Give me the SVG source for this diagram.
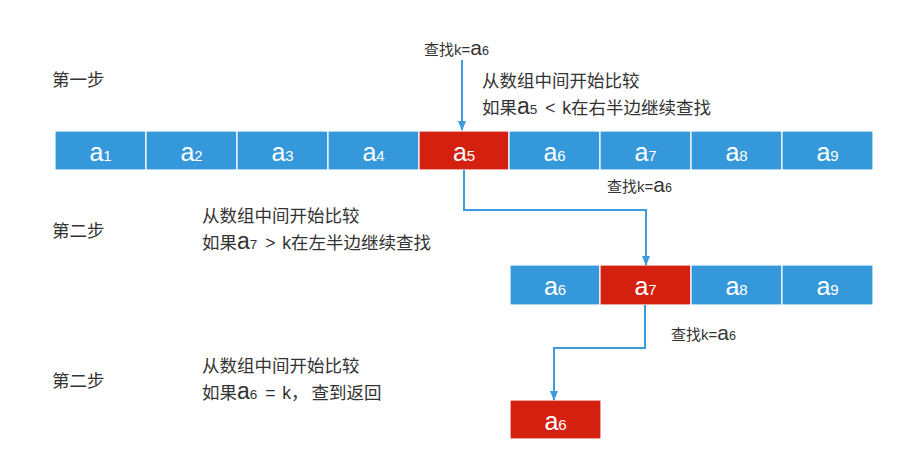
<svg xmlns="http://www.w3.org/2000/svg" width="918" height="462" viewBox="0 0 918 462">
<defs>
<style>
.txt{font-family:"Liberation Sans","Noto Sans CJK SC",sans-serif;fill:#333;}
.desc{font-size:17.5px;}
.find{font-size:15px;}
.big{font-size:23px;}
.sm{font-size:13.5px;}
.fbig{font-size:21px;}
.fsm{font-size:12.5px;}
.cell rect{stroke:#fff;stroke-width:1.2;}
.blue{fill:#3598db;}
.red{fill:#d3200f;}
.lbl{font-family:"Liberation Sans",sans-serif;fill:#fff;text-anchor:middle;font-size:25px;}
.lbl .d{font-size:15px;}
.conn{fill:none;stroke:#3c9ddc;stroke-width:2;}
</style>
<marker id="arr" markerUnits="userSpaceOnUse" markerWidth="10" markerHeight="10" viewBox="0 0 10 10" refX="9" refY="5" orient="auto">
<path d="M0,1 L10,5 L0,9 Z" fill="#3c9ddc"/>
</marker>
</defs>
<rect width="918" height="462" fill="#fff"/>

<g id="step-labels">
<text class="txt desc" x="52" y="86">第一步</text>
<text class="txt desc" x="52" y="237">第二步</text>
<text class="txt desc" x="52" y="387">第二步</text>
</g>

<g id="notes">
<text class="txt find" x="424" y="55">查找k=<tspan class="fbig">a</tspan><tspan class="fsm">6</tspan></text>
<text class="txt desc" x="482" y="87">从数组中间开始比较</text>
<text class="txt desc" x="482" y="114">如果<tspan class="big">a</tspan><tspan class="sm">5</tspan><tspan dx="3"> &lt;</tspan><tspan dx="2"> k</tspan>在右半边继续查找</text>
<text class="txt find" x="607" y="192">查找k=<tspan class="fbig">a</tspan><tspan class="fsm">6</tspan></text>
<text class="txt desc" x="202" y="222">从数组中间开始比较</text>
<text class="txt desc" x="202" y="249">如果<tspan class="big">a</tspan><tspan class="sm">7</tspan><tspan dx="3"> &gt;</tspan><tspan dx="2"> k</tspan>在左半边继续查找</text>
<text class="txt find" x="671" y="340">查找k=<tspan class="fbig">a</tspan><tspan class="fsm">6</tspan></text>
<text class="txt desc" x="202" y="372">从数组中间开始比较</text>
<text class="txt desc" x="202" y="399">如果<tspan class="big">a</tspan><tspan class="sm">6</tspan><tspan dx="3"> =</tspan><tspan dx="2"> k</tspan>，<tspan dx="3">查到返回</tspan></text>
</g>

<g id="row1" class="cell">
<g id="r1a1"><rect class="blue" x="55" y="131" width="91" height="39"/><text class="lbl" x="100.5" y="161">a<tspan class="d">1</tspan></text></g>
<g id="r1a2"><rect class="blue" x="146" y="131" width="91" height="39"/><text class="lbl" x="191.5" y="161">a<tspan class="d">2</tspan></text></g>
<g id="r1a3"><rect class="blue" x="237" y="131" width="91" height="39"/><text class="lbl" x="282.5" y="161">a<tspan class="d">3</tspan></text></g>
<g id="r1a4"><rect class="blue" x="328" y="131" width="91" height="39"/><text class="lbl" x="373.5" y="161">a<tspan class="d">4</tspan></text></g>
<g id="r1a5"><rect class="red" x="419" y="131" width="90" height="39"/><text class="lbl" x="464" y="161">a<tspan class="d">5</tspan></text></g>
<g id="r1a6"><rect class="blue" x="509" y="131" width="91" height="39"/><text class="lbl" x="554.5" y="161">a<tspan class="d">6</tspan></text></g>
<g id="r1a7"><rect class="blue" x="600" y="131" width="91" height="39"/><text class="lbl" x="645.5" y="161">a<tspan class="d">7</tspan></text></g>
<g id="r1a8"><rect class="blue" x="691" y="131" width="91" height="39"/><text class="lbl" x="736.5" y="161">a<tspan class="d">8</tspan></text></g>
<g id="r1a9"><rect class="blue" x="782" y="131" width="91" height="39"/><text class="lbl" x="827.5" y="161">a<tspan class="d">9</tspan></text></g>
</g>

<g id="row2" class="cell">
<g id="r2a6"><rect class="blue" x="510" y="265" width="90" height="40"/><text class="lbl" x="555" y="295">a<tspan class="d">6</tspan></text></g>
<g id="r2a7"><rect class="red" x="600" y="265" width="91" height="40"/><text class="lbl" x="645.5" y="295">a<tspan class="d">7</tspan></text></g>
<g id="r2a8"><rect class="blue" x="691" y="265" width="91" height="40"/><text class="lbl" x="736.5" y="295">a<tspan class="d">8</tspan></text></g>
<g id="r2a9"><rect class="blue" x="782" y="265" width="91" height="40"/><text class="lbl" x="827.5" y="295">a<tspan class="d">9</tspan></text></g>
</g>

<g id="row3" class="cell">
<g id="r3a6"><rect class="red" x="510" y="400" width="91" height="39"/><text class="lbl" x="555.5" y="430">a<tspan class="d">6</tspan></text></g>
</g>

<g id="connectors">
<path class="conn" d="M462,60 V130" marker-end="url(#arr)"/>
<path class="conn" d="M464,170 V210 H646 V265" marker-end="url(#arr)"/>
<path class="conn" d="M645,305 V348 H554 V400" marker-end="url(#arr)"/>
</g>
</svg>
